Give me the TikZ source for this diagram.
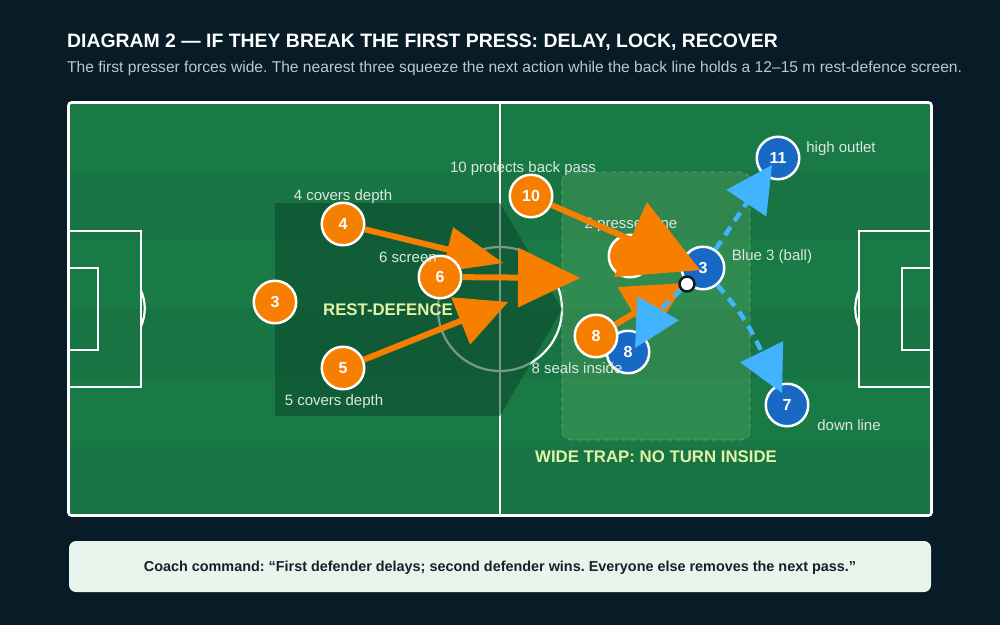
\documentclass[tikz,border=0pt]{standalone}
\usepackage{fontspec}
\setmainfont{Liberation Sans}
\usetikzlibrary{calc}
\frenchspacing
\definecolor{bg}{HTML}{081C27}
\definecolor{pitchA}{HTML}{1A7A46}
\definecolor{pitchB}{HTML}{187443}
\definecolor{restdef}{HTML}{0A462D}
\definecolor{trapfill}{HTML}{8BD17C}
\definecolor{trapline}{HTML}{6CB57A}
\definecolor{orng}{HTML}{F77F00}
\definecolor{blu}{HTML}{1769C4}
\definecolor{lblue}{HTML}{42B4FF}
\definecolor{lbl}{HTML}{DCE8E0}
\definecolor{zonelbl}{HTML}{E2F2A6}
\definecolor{subt}{HTML}{B9C8D1}
\definecolor{capfill}{HTML}{E9F4ED}
\definecolor{captxt}{HTML}{10222E}
\definecolor{balline}{HTML}{0D1B24}
% #1 colour, #2 tip, #3 point the head looks back to, #4 head length, #5 half width
\newcommand{\mytrihead}[5]{%
  \coordinate (hb) at ($(#2)!#4!(#3)$);
  \fill[#1] (#2) -- ($(hb)!#5!90:(#2)$) -- ($(hb)!#5!-90:(#2)$) -- cycle;}
\begin{document}
\begin{tikzpicture}[x=1pt,y=-1pt,
  pline/.style={draw=white,line width=2.2pt},
  player/.style={circle,minimum size=42.5pt,inner sep=0pt,draw=white,line width=2.5pt,
    text=white,font=\fontsize{16}{16}\selectfont\bfseries},
  opl/.style={player,fill=orng},
  bpl/.style={player,fill=blu},
  lab/.style={anchor=base,inner sep=0pt,text=lbl,font=\fontsize{15}{18}\selectfont},
  zlab/.style={anchor=base,inner sep=0pt,text=zonelbl,font=\fontsize{16.8}{18}\selectfont\bfseries},
  oarr/.style={draw=orng,line width=6pt},
  barr/.style={draw=lblue,line width=4.5pt,dash pattern=on 10pt off 7pt}
]
\useasboundingbox (0,0) rectangle (1000,625);
\fill[bg] (0,0) rectangle (1000,625);
% title
\node[anchor=base west,inner sep=0pt,text=white,font=\fontsize{19.4}{22}\selectfont\bfseries] (title) at (67,47.5)
  {DIAGRAM 2 — IF THEY BREAK THE FIRST PRESS: DELAY, LOCK, RECOVER};
\node[anchor=base west,inner sep=0pt,text=subt,font=\fontsize{15.6}{18}\selectfont] (sub) at (67,72)
  {The first presser forces wide. The nearest three squeeze the next action while the back line holds a 12–15 m rest-defence screen.};
% pitch
\begin{scope}
\clip[rounded corners=3pt] (68.5,102.5) rectangle (931.5,515.5);
\fill[pitchA] (68,102) rectangle (932,171);
\fill[pitchB] (68,171) rectangle (932,240);
\fill[pitchA] (68,240) rectangle (932,309);
\fill[pitchB] (68,309) rectangle (932,378);
\fill[pitchA] (68,378) rectangle (932,447);
\fill[pitchB] (68,447) rectangle (932,516);
\end{scope}
\draw[pline] (500,102) -- (500,516);
\draw[pline] (500,309) circle[radius=62];
\draw[pline] (68,231) rectangle (141,387);
\draw[pline] (68,268) rectangle (98,350);
\draw[pline] (932,231) rectangle (859,387);
\draw[pline] (932,268) rectangle (902,350);
\draw[pline] (141,290.5) arc[start angle=-23.6,end angle=23.6,radius=44.75];
\draw[pline] (859,290.5) arc[start angle=203.6,end angle=156.4,radius=44.75];
\draw[white,line width=2.6pt,rounded corners=3pt] (68.5,102.5) rectangle (931.5,515.5);
% zones
\fill[restdef,opacity=0.55] (275,203) -- (500,203) -- (562,309) -- (500,416) -- (275,416) -- cycle;
\fill[trapfill,opacity=0.2,rounded corners=9pt] (562,172) rectangle (750,440);
\draw[trapline,opacity=0.45,line width=1.2pt,dash pattern=on 5pt off 4pt,rounded corners=9pt] (562,172) rectangle (750,440);
\node[zlab] (zrest) at (388,315.5) {REST-DEFENCE};
\node[zlab] (ztrap) at (656,462.5) {WIDE TRAP: NO TURN INSIDE};
% coordinates for arrow ends
\coordinate (t4) at (503,263);
\coordinate (t5) at (508,302);
\coordinate (t6) at (580,278);
\coordinate (t10) at (700,270);
\coordinate (t8) at (685,283);
\coordinate (t11) at (772,165);
\coordinate (t7) at (782,393);
\coordinate (c7) at (745,318);
\coordinate (tb8) at (635,348);
\coordinate (c8) at (660,305);
% players and arrows
\node[opl] (o4) at (343,224) {4};
\node[opl] (o5) at (343,368) {5};
\draw[oarr] (o4) -- ($(t4)!42pt!(o4)$);
\mytrihead{orng}{t4}{o4}{57pt}{23pt}
\draw[oarr] (o5) -- ($(t5)!38pt!(o5)$);
\mytrihead{orng}{t5}{o5}{51pt}{25.5pt}
\node[opl] (o3) at (275,302) {3};
\node[opl] (o6) at (440,277) {6};
\draw[oarr] (o6) -- ($(t6)!46pt!(o6)$);
\mytrihead{orng}{t6}{o6}{62pt}{30pt}
\node[bpl] (b11) at (778,158) {11};
\node[bpl] (b3) at (703,268) {3};
\node[bpl] (b7) at (787,405) {7};
\node[bpl] (b8) at (628,352) {8};
\node[opl] (o10) at (531,196) {10};
\node[opl] (o2) at (630,256) {2};
\node[opl] (o8) at (596,336) {8};
% labels
\node[lab] (l4) at (343,200) {4 covers depth};
\node[lab] (l5) at (334,405) {5 covers depth};
\node[lab] (l6) at (408,262.5) {6 screen};
\node[lab] (l10) at (523,172) {10 protects back pass};
\node[lab] (l2) at (631,228) {2 presses line};
\node[lab] (l8) at (577,373) {8 seals inside};
\node[lab] (lb3) at (772,260) {Blue 3 (ball)};
\node[lab] (lb11) at (841,152) {high outlet};
\node[lab] (lb7) at (849,430.5) {down line};
% pressing arrows
\draw[oarr] (o10) -- ($(t10)!56pt!(o10)$);
\mytrihead{orng}{t10}{o10}{76pt}{41pt}
\draw[oarr] (o8) -- ($(t8)!45pt!(o8)$);
\mytrihead{orng}{t8}{o8}{60pt}{31pt}
% blue passing options
\node[circle,minimum size=15pt,inner sep=0pt] (ball) at (687,284) {};
\draw[barr] (b3) -- ($(t11)!36pt!(b3)$);
\mytrihead{lblue}{t11}{b3}{46pt}{24pt}
\draw[barr] (b3) .. controls (c7) .. ($(t7)!36pt!(c7)$);
\mytrihead{lblue}{t7}{c7}{46pt}{24pt}
\draw[barr] (ball) -- ($(tb8)!36pt!(c8)$);
\mytrihead{lblue}{tb8}{c8}{46pt}{24pt}
\node[circle,minimum size=15pt,inner sep=0pt,fill=white,draw=balline,line width=2.5pt] at (ball) {};
% caption
\node[rounded corners=7pt,fill=capfill,minimum width=862pt,minimum height=51pt,inner sep=0pt] (cap) at (500,566.5) {};
\node[anchor=base,inner sep=0pt,text=captxt,font=\fontsize{14.4}{16}\selectfont\bfseries] (captext) at (500,571.5)
  {Coach command: “First defender delays; second defender wins. Everyone else removes the next pass.”};
\end{tikzpicture}
\end{document}
